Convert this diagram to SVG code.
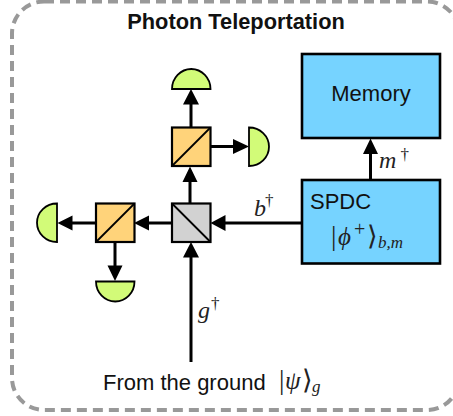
<svg xmlns="http://www.w3.org/2000/svg" width="453" height="416" viewBox="0 0 453 416">
<style>
text{font-family:"Liberation Sans",Arial,sans-serif;fill:#111}
.t{font-size:22px}
.v{font-family:"Liberation Serif",serif;font-style:italic;font-size:24px;fill:#222}
.n{font-family:"Liberation Serif",serif;font-style:normal;fill:#222}
.c{fill:none;stroke:#000;stroke-width:3}
.h{fill:#000}
.b{fill:#76d3ff;stroke:#000;stroke-width:2.6}
.o{fill:#ffd37a;stroke:#000;stroke-width:2.2}
.g{fill:#d2d2d2;stroke:#000;stroke-width:2.2}
.d{fill:#d2fb78;stroke:#000;stroke-width:1.8}
.s{stroke:#000;stroke-width:1.8;fill:none}
</style>
<rect id="border" x="12" y="1.500" width="447" height="408.500" rx="32" fill="none" stroke="#999" stroke-width="4" stroke-dasharray="10 6"/>
<text x="236" y="29" text-anchor="middle" font-size="21.800" font-weight="bold">Photon Teleportation</text>
<g id="connectors">
<path class="c" d="M191 127V100M190 203V180M211 146.500H236M172 223H146M96 223H71M115 242V268M191 362V254M302 223H224M370.500 180V152"/>
<path class="h" d="M191 89L183 104.500H199ZM190 166.500L182.500 182H197.500ZM249 146.500L233 139V154ZM134 223L149 215.500V230.500ZM57.500 223L72.500 215.500V230.500ZM115 281L107.500 265.500H122.500ZM191 242L183 257.500H199ZM210.500 223L225.500 215V231ZM370.500 138.500L363 154H378Z"/>
</g>
<g id="det-top"><path class="d" d="M172 89A19.250 20 0 0 1 210.500 89Z"/></g>
<g id="bs-top"><rect class="o" x="172" y="127.500" width="38.500" height="38.500"/><path class="s" d="M172 166L210.500 127.500"/></g>
<g id="det-right"><path class="d" d="M249 127.500A20 19.250 0 0 1 249 166Z"/></g>
<g id="bs-center"><rect class="g" x="172" y="203.500" width="38.500" height="38.500"/><path class="s" d="M172 203.500L210.500 242"/></g>
<g id="bs-left"><rect class="o" x="96" y="203.500" width="38.500" height="38.500"/><path class="s" d="M96 242L134.500 203.500"/></g>
<g id="det-left"><path class="d" d="M57 203.500A20 19.250 0 0 0 57 242Z"/></g>
<g id="det-bottom"><path class="d" d="M96 281.500A19.250 20 0 0 0 134.500 281.500Z"/></g>
<g id="memory"><rect class="b" x="302" y="54" width="138" height="84"/><text class="t" x="371" y="101" text-anchor="middle">Memory</text></g>
<g id="spdc"><rect class="b" x="302" y="180" width="138" height="83.500"/><text class="t" x="310" y="209">SPDC</text>
<text class="v" x="331" y="245"><tspan class="n" font-size="27">|</tspan><tspan x="338" font-size="25">ϕ</tspan><tspan class="n" x="354" y="236" font-size="20">+</tspan><tspan class="n" x="367" y="245" font-size="27">⟩</tspan><tspan x="378" y="248" font-size="17">b,m</tspan></text></g>
<text class="v" x="254" y="216">b<tspan class="n" x="265" y="206" font-size="17">†</tspan></text>
<text class="v" x="379" y="168" font-size="26">m<tspan class="n" x="400.500" y="160" font-size="17">†</tspan></text>
<text class="v" x="198" y="318" font-size="25">g<tspan class="n" x="211" y="309" font-size="17">†</tspan></text>
<text class="t" x="103" y="390">From the ground</text>
<text class="v" x="279" y="389"><tspan class="n" font-size="27">|</tspan><tspan x="285" font-size="25">ψ</tspan><tspan class="n" x="302" font-size="27">⟩</tspan><tspan x="312" y="392" font-size="17">g</tspan></text>
</svg>
